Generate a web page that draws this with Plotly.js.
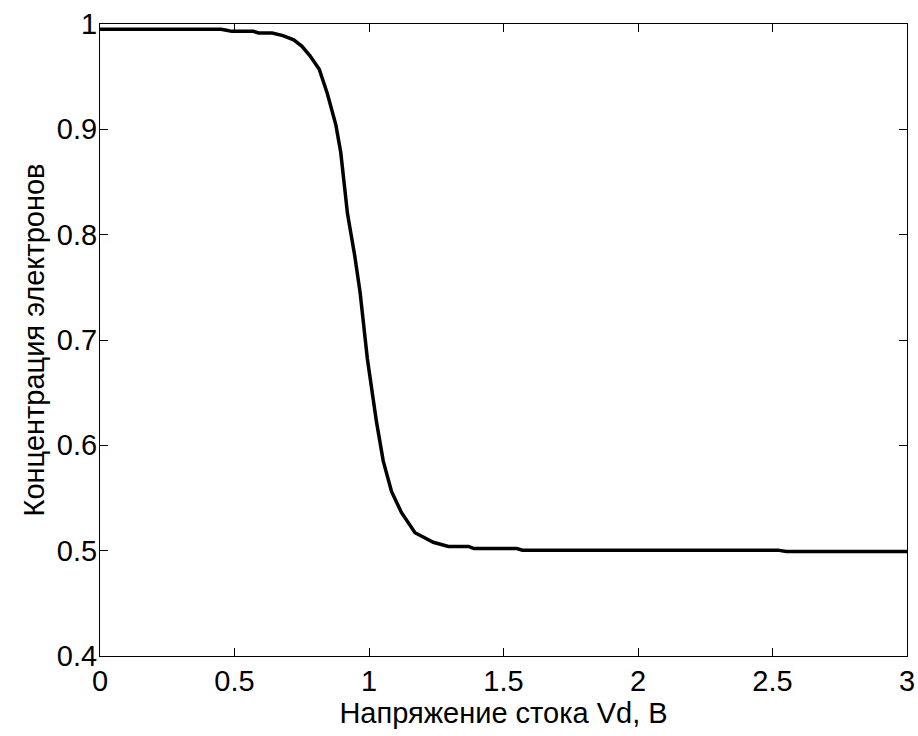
<!DOCTYPE html>
<html>
<head>
<meta charset="utf-8">
<script src="https://cdn.plot.ly/plotly-3.0.1.min.js"></script>
<style>html,body{margin:0;padding:0;background:#fff}#chart{width:918px;height:736px}</style>
</head>
<body>
<div id="chart"></div>
<script>
const voltage = [0, 0.45, 0.47, 0.49, 0.57, 0.59, 0.64, 0.68, 0.72, 0.75, 0.78, 0.815, 0.845, 0.877, 0.895, 0.92, 0.947, 0.967, 0.994, 1.028, 1.053, 1.084, 1.121, 1.171, 1.239, 1.295, 1.37, 1.39, 1.55, 1.57, 2.52, 2.55, 3.0];
const concentration = [0.995, 0.995, 0.994, 0.993, 0.993, 0.9915, 0.9915, 0.989, 0.985, 0.979, 0.970, 0.957, 0.934, 0.904, 0.878, 0.82, 0.78, 0.745, 0.682, 0.622, 0.585, 0.556, 0.536, 0.517, 0.508, 0.504, 0.504, 0.502, 0.502, 0.5005, 0.5005, 0.4993, 0.4993];
const xTicks = [0, 0.5, 1, 1.5, 2, 2.5, 3];
const yTicks = [0.4, 0.5, 0.6, 0.7, 0.8, 0.9, 1];
const xLabel = 'Напряжение стока Vd, В';
const yLabel = 'Концентрация электронов';

const font = {family: 'Liberation Sans, Arial, sans-serif', size: 29, color: '#000'};
const axisCommon = {
  showline: true, linecolor: '#000', linewidth: 1, mirror: 'ticks',
  ticks: 'inside', ticklen: 8, tickcolor: '#000', tickwidth: 1,
  showgrid: false, zeroline: false, tickfont: font
};
Plotly.newPlot('chart', [{
  x: voltage, y: concentration, type: 'scatter', mode: 'lines',
  line: {color: '#000', width: 3.5}
}], {
  width: 918, height: 736,
  margin: {l: 100, r: 11, t: 24, b: 80},
  paper_bgcolor: '#fff', plot_bgcolor: '#fff',
  showlegend: false,
  xaxis: Object.assign({}, axisCommon, {range: [0, 3], tickvals: xTicks, ticktext: xTicks.map(String), ticklabelstandoff: -1,
    title: {text: xLabel, font: font, standoff: 0}}),
  yaxis: Object.assign({}, axisCommon, {range: [0.4, 1], tickvals: yTicks, ticktext: yTicks.map(String), ticklabelstandoff: -4,
    title: {text: yLabel, font: font, standoff: 3}})
}, {staticPlot: true});
</script>
</body>
</html>
